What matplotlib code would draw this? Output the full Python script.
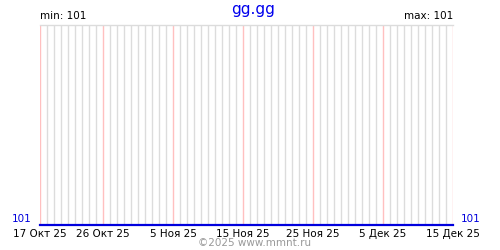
import numpy as np
import matplotlib
matplotlib.use("Agg")
import matplotlib.pyplot as plt

# дни с 17 Окт 25 по 15 Дек 25
days = np.arange(60)
values = [101, 101, 101, 101, 101, 101, 101, 101, 101, 101,
          101, 101, 101, 101, 101, 101, 101, 101, 101, 101,
          101, 101, 101, 101, 101, 101, 101, 101, 101, 101,
          101, 101, 101, 101, 101, 101, 101, 101, 101, 101,
          101, 101, 101, 101, 101, 101, 101, 101, 101, 101,
          101, 101, 101, 101, 101, 101, 101, 101, 101, 101]
tick_days = [0, 9, 19, 29, 39, 49, 59]
tick_labels = ["17 Окт 25", "26 Окт 25", "5 Ноя 25", "15 Ноя 25",
               "25 Ноя 25", "5 Дек 25", "15 Дек 25"]
title = "gg.gg"

fig = plt.figure(figsize=(5, 2.5), dpi=100)
ax = fig.add_axes([0.08, 0.1, 0.826, 0.8])

ax.vlines([d for d in days if d not in tick_days], 0, 1, color="#dcdcdc",
          linewidth=1, transform=ax.get_xaxis_transform())
ax.vlines(tick_days, 0, 1, color="#ffc0c0", linewidth=1,
          transform=ax.get_xaxis_transform())

ax.plot(days, values, color="#0000dd", linewidth=1.6, clip_on=False, zorder=5)

ax.set_xlim(0, 59)
ax.set_ylim(101, 102)
ax.set_yticks([])
ax.set_xticks(tick_days)
ax.set_xticklabels(tick_labels, fontsize=7.5)
ax.tick_params(axis="x", length=0, pad=3)

for s in ["left", "right", "bottom"]:
    ax.spines[s].set_visible(False)
ax.spines["top"].set_color("#dcdcdc")
ax.spines["top"].set_linewidth(1)

fig.text(0.506, 0.962, title, color="#0000ee", fontsize=11, ha="center", va="center")
fig.text(0.08, 0.915, "min: 101", fontsize=7.5, ha="left", va="bottom")
fig.text(0.906, 0.915, "max: 101", fontsize=7.5, ha="right", va="bottom")
fig.text(0.064, 0.104, "101", color="#0000dd", fontsize=7.5, ha="right", va="bottom")
fig.text(0.922, 0.104, "101", color="#0000dd", fontsize=7.5, ha="left", va="bottom")
fig.text(0.51, 0.028, "©2025 www.mmnt.ru", color="#999999", fontsize=7.5,
         ha="center", va="center")

fig.savefig("out.png", dpi=100, facecolor="white")
